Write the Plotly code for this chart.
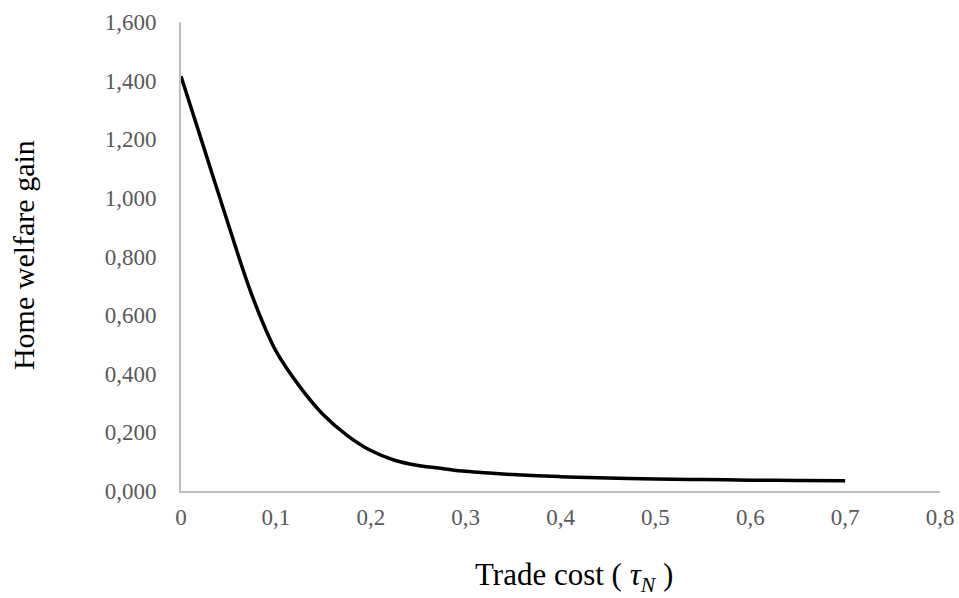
import plotly.graph_objects as go

trade_cost = [0, 0.025, 0.05, 0.075, 0.1, 0.125, 0.15, 0.175, 0.2, 0.225, 0.25, 0.275,
              0.3, 0.35, 0.4, 0.45, 0.5, 0.55, 0.6, 0.65, 0.7]
welfare_gain = [1.415, 1.162, 0.908, 0.666, 0.478, 0.357, 0.26, 0.19, 0.138, 0.105, 0.087, 0.077,
                0.067, 0.056, 0.049, 0.044, 0.041, 0.039, 0.037, 0.036, 0.035]

x_ticks = [0, 0.1, 0.2, 0.3, 0.4, 0.5, 0.6, 0.7, 0.8]
x_tick_labels = ["0", "0,1", "0,2", "0,3", "0,4", "0,5", "0,6", "0,7", "0,8"]
y_ticks = [0, 0.2, 0.4, 0.6, 0.8, 1.0, 1.2, 1.4, 1.6]
y_tick_labels = ["0,000", "0,200", "0,400", "0,600", "0,800", "1,000", "1,200", "1,400", "1,600"]

tick_font = dict(family="Liberation Serif", size=23, color="#595959")

fig = go.Figure()
fig.add_trace(go.Scatter(
    x=trade_cost, y=welfare_gain, mode="lines",
    line=dict(color="black", width=3.5, shape="spline", smoothing=1.0),
    hoverinfo="skip", showlegend=False,
))

fig.update_layout(
    width=959, height=598,
    margin=dict(l=181, r=19, t=22, b=107, autoexpand=False),
    paper_bgcolor="white", plot_bgcolor="white",
    showlegend=False,
    xaxis=dict(
        range=[0, 0.8], tickvals=x_ticks, ticktext=x_tick_labels,
        showgrid=False, zeroline=False, showline=True, linecolor="#bfbfbf", linewidth=2,
        ticks="", tickfont=tick_font, ticklabelstandoff=4,
        automargin=False, ticklabeloverflow="allow",
    ),
    yaxis=dict(
        range=[0, 1.6], tickvals=y_ticks, ticktext=y_tick_labels,
        showgrid=False, zeroline=False, showline=True, linecolor="#bfbfbf", linewidth=2,
        ticks="", tickfont=tick_font, ticklabelstandoff=18,
        automargin=False, ticklabeloverflow="allow",
    ),
    annotations=[
        dict(text="Trade cost ( <i>τ</i><sub><i>N</i></sub> )", xref="paper", yref="paper",
             x=0.518, y=0, yshift=-86, xanchor="center", yanchor="middle", showarrow=False,
             font=dict(family="Liberation Serif", size=31, color="black")),
        dict(text="Home welfare gain", xref="paper", yref="paper",
             x=0, y=0.503, xshift=-158, xanchor="center", yanchor="middle", showarrow=False,
             textangle=-90, font=dict(family="Liberation Serif", size=30, color="black")),
    ],
)

fig.write_html("out.html", config={"displayModeBar": False},
               post_script="document.body.style.margin='0';document.body.style.padding='0';")
